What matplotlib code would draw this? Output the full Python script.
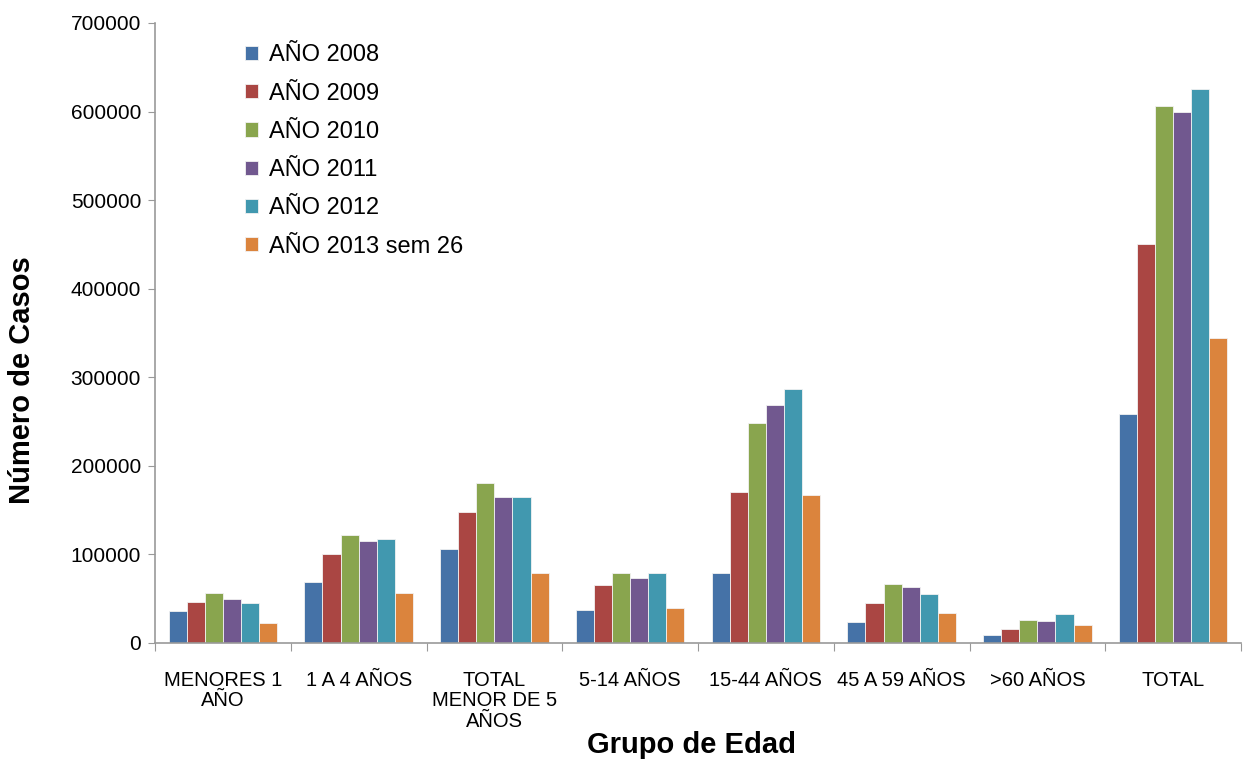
import numpy as np
import matplotlib
matplotlib.use("Agg")
import matplotlib.pyplot as plt

plt.rcParams['font.family'] = ['Liberation Sans', 'DejaVu Sans']

categories = ["MENORES 1\nAÑO", "1 A 4 AÑOS", "TOTAL\nMENOR DE 5\nAÑOS", "5-14 AÑOS",
              "15-44 AÑOS", "45 A 59 AÑOS", ">60 AÑOS", "TOTAL"]
series_names = ["AÑO 2008", "AÑO 2009", "AÑO 2010", "AÑO 2011", "AÑO 2012", "AÑO 2013 sem 26"]

y2008 = [36300, 69100, 106500, 37200, 79400, 23700, 8700, 258800]
y2009 = [46800, 100200, 148300, 65900, 170900, 44800, 16200, 450000]
y2010 = [57000, 122100, 180600, 79400, 248800, 66600, 26000, 606000]
y2011 = [49400, 114900, 164400, 73000, 268300, 63200, 24800, 600000]
y2012 = [45700, 117200, 164400, 79400, 287100, 55800, 32400, 625000]
y2013 = [22400, 55900, 79400, 40000, 167000, 33500, 20000, 344000]

series = [y2008, y2009, y2010, y2011, y2012, y2013]
colors = ["#4572A7", "#AA4643", "#89A54E", "#71588F", "#4198AF", "#DB843D"]

fig = plt.figure(figsize=(12.43, 7.62), dpi=100)
ax = fig.add_axes([155/1243, 1 - 643/762, 1 - 155/1243 - 2/1243, (643 - 23)/762])

n = len(series)
x = np.arange(len(categories))
bw = 0.8 / n
for i, (vals, col, name) in enumerate(zip(series, colors, series_names)):
    ax.bar(x - 0.4 + bw * (i + 0.5), vals, width=bw, color=col, label=name,
           edgecolor="#f2f2f2", linewidth=0.6)

ax.set_xlim(-0.5, len(categories) - 0.5)
ax.set_ylim(0, 700000)
ax.set_yticks(np.arange(0, 700001, 100000))
ax.set_yticklabels([str(v) for v in range(0, 700001, 100000)], fontsize=15)

# boundary ticks between groups, labels centred under each group
ax.set_xticks(np.arange(-0.5, len(categories) + 0.5, 1))
ax.set_xticklabels([])
ax.set_xticks(x, minor=True)
ax.set_xticklabels(categories, minor=True, fontsize=14.5, linespacing=1.1, va="top")
ax.tick_params(axis="x", which="minor", length=0, pad=20)
ax.tick_params(axis="x", which="major", length=6, color="#999999", direction="out")
ax.tick_params(axis="y", length=5, color="#999999", direction="out", pad=5)

for s in ["top", "right"]:
    ax.spines[s].set_visible(False)
for s in ["left", "bottom"]:
    ax.spines[s].set_color("#999999")
    ax.spines[s].set_linewidth(1.2)

ax.set_ylabel("Número de Casos", fontsize=21, fontweight="bold")
ax.yaxis.set_label_coords((22 - 155) / 1088, (643 - 380) / 620)
ax.set_xlabel("Grupo de Edad", fontsize=21, fontweight="bold")
ax.xaxis.set_label_coords((692 - 155) / 1088, -(745 - 643) / 620)
ax.xaxis.label.set_va("center")
ax.yaxis.label.set_va("center")

leg = ax.legend(loc="upper left", bbox_to_anchor=(0.063, 1.0), frameon=False,
                fontsize=17, handlelength=0.55, handleheight=0.55, handletextpad=0.5,
                labelspacing=0.69)

fig.savefig("out.png", dpi=100)
